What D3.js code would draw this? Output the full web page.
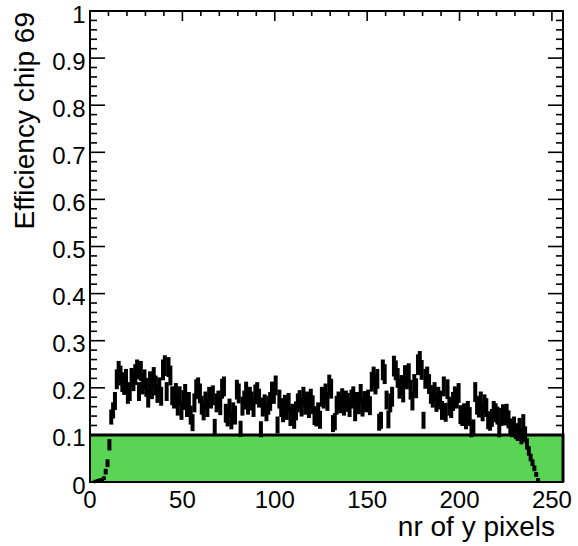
<!DOCTYPE html>
<html>
<head>
<meta charset="utf-8">
<script src="https://cdn.jsdelivr.net/npm/d3@7"></script>
<style>
  html, body { margin: 0; padding: 0; background: #fff; }
  svg { display: block; }
  text { font-family: "Liberation Sans", Arial, Helvetica, sans-serif; fill: #000; }
</style>
</head>
<body>
<svg id="chart" width="578" height="546"></svg>
<script>
// Per-pixel efficiency along y (256 bins), with binomial errors
const efficiency = [
  0, 0, 0.001, 0.002, 0.003, 0.004, 0.005, 0.008, 0.022, 0.040, 0.079, 0.138, 0.152, 0.172, 0.218, 0.236,
  0.226, 0.212, 0.205, 0.219, 0.186, 0.192, 0.221, 0.214, 0.228, 0.239, 0.192, 0.236, 0.207, 0.218, 0.201, 0.178,
  0.214, 0.196, 0.223, 0.205, 0.188, 0.201, 0.182, 0.238, 0.247, 0.192, 0.244, 0.226, 0.183, 0.176, 0.189, 0.161,
  0.183, 0.152, 0.174, 0.187, 0.158, 0.171, 0.142, 0.126, 0.168, 0.197, 0.201, 0.188, 0.163, 0.151, 0.172, 0.158,
  0.181, 0.176, 0.184, 0.117, 0.168, 0.174, 0.162, 0.198, 0.203, 0.146, 0.138, 0.157, 0.131, 0.149, 0.142, 0.196,
  0.188, 0.113, 0.161, 0.174, 0.192, 0.163, 0.181, 0.172, 0.158, 0.186, 0.191, 0.178, 0.112, 0.159, 0.166, 0.149,
  0.163, 0.171, 0.192, 0.187, 0.205, 0.121, 0.176, 0.158, 0.147, 0.165, 0.152, 0.169, 0.139, 0.146, 0.132, 0.151,
  0.168, 0.175, 0.159, 0.181, 0.163, 0.172, 0.156, 0.178, 0.164, 0.141, 0.137, 0.149, 0.132, 0.181, 0.176, 0.188,
  0.171, 0.207, 0.198, 0.124, 0.128, 0.163, 0.172, 0.166, 0.178, 0.161, 0.174, 0.169, 0.158, 0.176, 0.182, 0.149,
  0.171, 0.164, 0.187, 0.159, 0.173, 0.168, 0.176, 0.162, 0.213, 0.224, 0.207, 0.219, 0.127, 0.131, 0.238, 0.229,
  0.174, 0.133, 0.168, 0.181, 0.246, 0.237, 0.221, 0.198, 0.206, 0.189, 0.227, 0.218, 0.231, 0.196, 0.172, 0.208,
  0.199, 0.249, 0.256, 0.238, 0.131, 0.219, 0.224, 0.208, 0.186, 0.178, 0.191, 0.169, 0.182, 0.174, 0.152, 0.203,
  0.148, 0.197, 0.161, 0.156, 0.171, 0.182, 0.176, 0.189, 0.143, 0.138, 0.147, 0.131, 0.152, 0.139, 0.112, 0.116,
  0.191, 0.163, 0.157, 0.172, 0.149, 0.166, 0.158, 0.131, 0.128, 0.136, 0.152, 0.147, 0.141, 0.112, 0.138, 0.145,
  0.139, 0.146, 0.133, 0.117, 0.112, 0.121, 0.108, 0.104, 0.118, 0.097, 0.126, 0.101, 0.081, 0.066, 0.052, 0.041,
  0.029, 0.016, 0.005, 0, 0, 0, 0, 0, 0, 0, 0, 0, 0, 0, 0, 0
];

const errors = [
  0, 0, 0.001, 0.001, 0.002, 0.002, 0.002, 0.003, 0.005, 0.007, 0.011, 0.015, 0.016, 0.018, 0.020, 0.020,
  0.020, 0.020, 0.019, 0.020, 0.019, 0.019, 0.020, 0.020, 0.021, 0.020, 0.019, 0.020, 0.020, 0.020, 0.019, 0.019,
  0.020, 0.019, 0.020, 0.020, 0.019, 0.020, 0.019, 0.021, 0.021, 0.019, 0.020, 0.020, 0.019, 0.019, 0.020, 0.019,
  0.019, 0.019, 0.020, 0.020, 0.019, 0.019, 0.019, 0.017, 0.019, 0.020, 0.020, 0.020, 0.019, 0.019, 0.019, 0.019,
  0.020, 0.019, 0.020, 0.016, 0.019, 0.019, 0.019, 0.020, 0.020, 0.019, 0.019, 0.019, 0.018, 0.019, 0.019, 0.020,
  0.020, 0.016, 0.019, 0.019, 0.020, 0.019, 0.020, 0.019, 0.019, 0.020, 0.020, 0.019, 0.016, 0.019, 0.019, 0.019,
  0.019, 0.019, 0.020, 0.020, 0.020, 0.017, 0.019, 0.019, 0.019, 0.019, 0.019, 0.019, 0.019, 0.019, 0.018, 0.019,
  0.019, 0.019, 0.019, 0.020, 0.019, 0.019, 0.019, 0.019, 0.019, 0.019, 0.018, 0.019, 0.018, 0.020, 0.019, 0.020,
  0.019, 0.020, 0.020, 0.017, 0.017, 0.019, 0.019, 0.019, 0.020, 0.019, 0.019, 0.019, 0.019, 0.019, 0.020, 0.019,
  0.019, 0.019, 0.020, 0.019, 0.019, 0.019, 0.019, 0.019, 0.020, 0.020, 0.020, 0.020, 0.017, 0.017, 0.021, 0.020,
  0.019, 0.018, 0.019, 0.020, 0.021, 0.020, 0.020, 0.020, 0.020, 0.019, 0.020, 0.020, 0.020, 0.020, 0.019, 0.020,
  0.020, 0.021, 0.021, 0.020, 0.017, 0.020, 0.020, 0.020, 0.019, 0.019, 0.020, 0.019, 0.019, 0.019, 0.019, 0.020,
  0.019, 0.020, 0.019, 0.019, 0.019, 0.020, 0.019, 0.020, 0.019, 0.018, 0.019, 0.018, 0.019, 0.019, 0.016, 0.016,
  0.020, 0.019, 0.019, 0.019, 0.019, 0.019, 0.019, 0.018, 0.018, 0.018, 0.019, 0.019, 0.018, 0.016, 0.018, 0.019,
  0.018, 0.019, 0.018, 0.017, 0.016, 0.017, 0.016, 0.016, 0.017, 0.016, 0.017, 0.016, 0.011, 0.009, 0.007, 0.006,
  0.005, 0.004, 0.002, 0, 0, 0, 0, 0, 0, 0, 0, 0, 0, 0, 0, 0
];

// Reference efficiency level shown as a filled band
const thresholdLevel = 0.1;

const xTickValues = [0, 50, 100, 150, 200, 250];
const yTickValues = [0, 0.1, 0.2, 0.3, 0.4, 0.5, 0.6, 0.7, 0.8, 0.9, 1];
const yTickLabels = ["0", "0.1", "0.2", "0.3", "0.4", "0.5", "0.6", "0.7", "0.8", "0.9", "1"];

const xTitle = "nr of y pixels";
const yTitle = "Efficiency chip 69";

const nBins = efficiency.length;
const svg = d3.select("#chart");
const W = 578, H = 546;
const frame = { left: 90, right: 563, top: 11, bottom: 482 };

const x = d3.scaleLinear().domain([0, nBins]).range([frame.left, frame.right]);
const y = d3.scaleLinear().domain([0, 1]).range([frame.bottom, frame.top]);

svg.append("rect").attr("width", W).attr("height", H).attr("fill", "#fff");

const xMinor = d3.range(0, nBins + 1, 10);
const yMinor = d3.range(0, 51).map(d => d * 0.02);

// Tick marks on all four sides, pointing into the frame
const gTicks = svg.append("g").attr("stroke", "#000").attr("stroke-width", 1.6);
xMinor.forEach(v => {
  const len = v % 50 === 0 ? 10 : 5;
  gTicks.append("line").attr("x1", x(v)).attr("x2", x(v))
    .attr("y1", frame.bottom).attr("y2", frame.bottom - len);
  gTicks.append("line").attr("x1", x(v)).attr("x2", x(v))
    .attr("y1", frame.top).attr("y2", frame.top + len);
});
yMinor.forEach((v, i) => {
  const len = i % 5 === 0 ? 15 : 7;
  gTicks.append("line").attr("x1", frame.left).attr("x2", frame.left + len)
    .attr("y1", y(v)).attr("y2", y(v));
  gTicks.append("line").attr("x1", frame.right).attr("x2", frame.right - len)
    .attr("y1", y(v)).attr("y2", y(v));
});

// Filled band from 0 up to the reference level
svg.append("rect")
  .attr("x", x(0)).attr("y", y(thresholdLevel))
  .attr("width", x(nBins) - x(0)).attr("height", y(0) - y(thresholdLevel))
  .attr("fill", "#59d454");

// Frame
svg.append("rect")
  .attr("x", frame.left).attr("y", frame.top)
  .attr("width", frame.right - frame.left).attr("height", frame.bottom - frame.top)
  .attr("fill", "none").attr("stroke", "#000").attr("stroke-width", 2);

// Band outline
svg.append("path")
  .attr("d", d3.line()([[x(0), y(thresholdLevel)], [x(nBins), y(thresholdLevel)], [x(nBins), y(0)]]))
  .attr("fill", "none").attr("stroke", "#000").attr("stroke-width", 3);

// Efficiency points with error bars
const points = efficiency.map((v, i) => ({ i, v, e: errors[i] }))
  .filter(d => d.v > 0 || d.e > 0);
const gPts = svg.append("g").attr("stroke", "#000").attr("stroke-linecap", "butt");
gPts.selectAll("line.ey").data(points).join("line").attr("class", "ey")
  .attr("stroke-width", 4)
  .attr("x1", d => x(d.i + 0.5)).attr("x2", d => x(d.i + 0.5))
  .attr("y1", d => y(d.v - d.e) + 0.5).attr("y2", d => y(d.v + d.e) - 0.5);
gPts.selectAll("line.ex").data(points).join("line").attr("class", "ex")
  .attr("stroke-width", 3.5)
  .attr("x1", d => x(d.i)).attr("x2", d => x(d.i + 1))
  .attr("y1", d => y(d.v)).attr("y2", d => y(d.v));

// Tick labels
const gLab = svg.append("g").attr("font-size", 24);
yTickValues.forEach((v, i) => {
  gLab.append("text").attr("x", frame.left - 4.5).attr("y", y(v) + 11.5)
    .attr("text-anchor", "end").text(yTickLabels[i]);
});
xTickValues.forEach(v => {
  gLab.append("text").attr("x", x(v)).attr("y", 508)
    .attr("text-anchor", "middle").text(String(v));
});

// Axis titles
svg.append("text").attr("font-size", 28)
  .attr("x", 555).attr("y", 536).attr("text-anchor", "end").text(xTitle);
svg.append("text").attr("font-size", 28)
  .attr("transform", `translate(34,12) rotate(-90)`)
  .attr("text-anchor", "end").text(yTitle);
</script>
</body>
</html>
